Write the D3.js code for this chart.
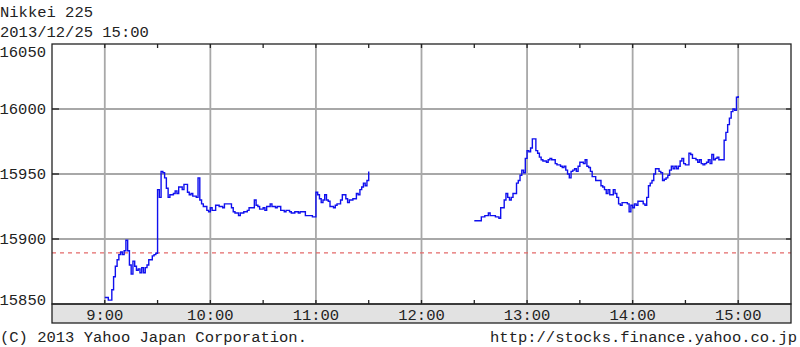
<!DOCTYPE html>
<html><head><meta charset="utf-8">
<script src="https://cdn.jsdelivr.net/npm/d3@7"></script>
<style>
html,body{margin:0;padding:0;background:#fff;}
svg{display:block;}
text{font-family:"Liberation Mono","DejaVu Sans Mono",monospace;font-size:15.5px;fill:#222;}
</style></head>
<body>
<svg id="c" width="800" height="347"></svg>
<script>
const title = "Nikkei 225";
const subtitle = "2013/12/25 15:00";
const copyright = "(C) 2013 Yahoo Japan Corporation.";
const source = "http://stocks.finance.yahoo.co.jp";
const prevClose = 15889.33;
const yTicks = [15850, 15900, 15950, 16000, 16050];
const xTickLabels = ["9:00","10:00","11:00","12:00","13:00","14:00","15:00"];
const halfHourTicks = ["9:00","9:30","10:00","10:30","11:00","11:30","12:00","12:30","13:00","13:30","14:00","14:30","15:00"];

const amTimes = ["9:00","9:02","9:04","9:05","9:06","9:07","9:08","9:09","9:10","9:11","9:12","9:13","9:14","9:15","9:16","9:17","9:18","9:19","9:20","9:21","9:22","9:23","9:24","9:25","9:27","9:28","9:29","9:30","9:31","9:32","9:33","9:34","9:35","9:36","9:37","9:39","9:40","9:41","9:42","9:44","9:45","9:47","9:48","9:49","9:50","9:52","9:53","9:54","9:55","9:56","9:58","9:59","10:00","10:01","10:03","10:05","10:07","10:08","10:12","10:13","10:14","10:16","10:17","10:19","10:21","10:22","10:25","10:26","10:27","10:28","10:30","10:31","10:32","10:34","10:35","10:37","10:38","10:40","10:42","10:43","10:45","10:46","10:48","10:50","10:51","10:54","10:58","11:00","11:01","11:02","11:03","11:04","11:05","11:06","11:07","11:08","11:10","11:11","11:12","11:14","11:15","11:17","11:18","11:19","11:21","11:23","11:24","11:25","11:26","11:27","11:28","11:29","11:30"];
const amValues = [15855,15853,15861,15871,15879,15884,15888,15890,15888,15891,15899,15891,15880,15873,15883,15879,15876,15877,15874,15878,15874,15878,15880,15884,15887,15888,15889,15938,15932,15952,15951,15947,15939,15932,15934,15935,15937,15935,15940,15938,15942,15936,15934,15935,15933,15932,15947,15930,15927,15925,15922,15921,15924,15922,15926,15925,15924,15927,15924,15921,15920,15918,15920,15921,15922,15924,15930,15926,15925,15923,15924,15922,15925,15927,15925,15924,15925,15922,15921,15922,15921,15920,15921,15920,15921,15918,15917,15936,15934,15931,15928,15930,15934,15930,15929,15925,15924,15926,15927,15930,15934,15931,15928,15930,15931,15935,15934,15938,15940,15943,15941,15945,15952];

const pmTimes = ["12:30","12:34","12:36","12:38","12:39","12:42","12:44","12:45","12:47","12:48","12:49","12:50","12:51","12:52","12:54","12:55","12:56","12:57","12:58","12:59","13:00","13:01","13:02","13:03","13:05","13:06","13:07","13:08","13:09","13:11","13:12","13:13","13:14","13:16","13:17","13:19","13:20","13:21","13:22","13:23","13:24","13:25","13:26","13:27","13:28","13:29","13:30","13:32","13:33","13:34","13:35","13:36","13:37","13:39","13:42","13:43","13:44","13:45","13:46","13:47","13:49","13:50","13:51","13:52","13:53","13:54","13:57","13:58","13:59","14:00","14:01","14:02","14:03","14:06","14:07","14:08","14:09","14:10","14:11","14:12","14:13","14:15","14:16","14:17","14:18","14:19","14:20","14:21","14:22","14:23","14:24","14:25","14:26","14:27","14:28","14:29","14:30","14:32","14:33","14:34","14:36","14:37","14:38","14:39","14:40","14:41","14:42","14:43","14:44","14:45","14:46","14:47","14:48","14:49","14:52","14:53","14:54","14:55","14:56","14:57","14:58","14:59","15:00"];
const pmValues = [15914,15917,15918,15920,15918,15917,15916,15924,15930,15935,15932,15930,15932,15935,15943,15945,15949,15953,15951,15962,15968,15967,15970,15977,15968,15966,15963,15961,15960,15959,15961,15962,15961,15958,15957,15956,15955,15956,15953,15950,15947,15952,15953,15954,15952,15956,15959,15958,15961,15956,15955,15952,15948,15945,15941,15940,15938,15935,15938,15934,15938,15935,15932,15927,15926,15928,15927,15921,15926,15924,15927,15926,15929,15927,15926,15932,15941,15943,15945,15950,15954,15952,15951,15945,15946,15947,15949,15953,15956,15954,15956,15954,15956,15960,15962,15958,15957,15966,15965,15962,15961,15959,15961,15958,15957,15958,15959,15961,15958,15965,15961,15962,15963,15961,15976,15982,15988,15993,15998,16000,15999,16009,16010];

const parse = d3.timeParse("%H:%M");
const svg = d3.select("#c");
const L = 52, R = 791, T = 44, B = 304, BAND = 323;

const x = d3.scaleTime().domain([parse("8:30"), parse("15:30")]).range([L, R]);
const y = d3.scaleLinear().domain([15850, 16050]).range([B, T]);

// titles
svg.append("text").attr("x", 0).attr("y", 17).text(title);
svg.append("text").attr("x", 0).attr("y", 37).text(subtitle);

// bottom band
svg.append("rect").attr("x", L).attr("y", B).attr("width", R - L).attr("height", BAND - B)
  .attr("fill", "#e2e2e2").attr("stroke", "#222").attr("stroke-width", 1.3);

// grid
const g = svg.append("g");
g.selectAll("line.vg").data(xTickLabels).join("line")
  .attr("x1", d => x(parse(d))).attr("x2", d => x(parse(d)))
  .attr("y1", T).attr("y2", B).attr("stroke", "#a8a8a8").attr("stroke-width", 1.8);
g.selectAll("line.hg").data(yTicks.slice(1, -1)).join("line")
  .attr("x1", L).attr("x2", R).attr("y1", d => y(d)).attr("y2", d => y(d))
  .attr("stroke", "#a8a8a8").attr("stroke-width", 1.8);

// previous close
svg.append("line").attr("x1", L).attr("x2", R).attr("y1", y(prevClose)).attr("y2", y(prevClose))
  .attr("stroke", "#e46a6a").attr("stroke-width", 1.3).attr("stroke-dasharray", "4,4");

// plot frame
svg.append("rect").attr("x", L).attr("y", T).attr("width", R - L).attr("height", B - T)
  .attr("fill", "none").attr("stroke", "#222").attr("stroke-width", 1.3);

// ticks
const tk = svg.append("g").attr("stroke", "#222").attr("stroke-width", 1.3);
halfHourTicks.forEach(d => {
  const xx = x(parse(d));
  tk.append("line").attr("x1", xx).attr("x2", xx).attr("y1", T).attr("y2", T + 4);
  tk.append("line").attr("x1", xx).attr("x2", xx).attr("y1", B).attr("y2", B - 4);
});
yTicks.slice(1, -1).forEach(d => {
  tk.append("line").attr("x1", L).attr("x2", L + 7).attr("y1", y(d)).attr("y2", y(d));
  tk.append("line").attr("x1", R).attr("x2", R - 5).attr("y1", y(d)).attr("y2", y(d));
});

// y labels
svg.selectAll("text.yl").data(yTicks).join("text")
  .attr("x", 46).attr("text-anchor", "end")
  .attr("y", d => Math.max(52, Math.min(300, y(d))) + 5)
  .text(d => d);

// x labels
svg.selectAll("text.xl").data(xTickLabels).join("text")
  .attr("x", d => x(parse(d))).attr("text-anchor", "middle").attr("y", 320)
  .text(d => d);

// footer
svg.append("text").attr("x", 0).attr("y", 342).text(copyright);
svg.append("text").attr("x", 797).attr("y", 342).attr("text-anchor", "end").text(source);

// price line
const line = d3.line().x(d => x(d[0])).y(d => y(d[1])).curve(d3.curveStepAfter);
const am = amTimes.map((t, i) => [parse(t), amValues[i]]);
const pm = pmTimes.map((t, i) => [parse(t), pmValues[i]]);
[am, pm].forEach(s => {
  svg.append("path").attr("d", line(s)).attr("fill", "none")
    .attr("stroke", "#1010ee").attr("stroke-width", 1.4);
});
</script>
</body></html>
